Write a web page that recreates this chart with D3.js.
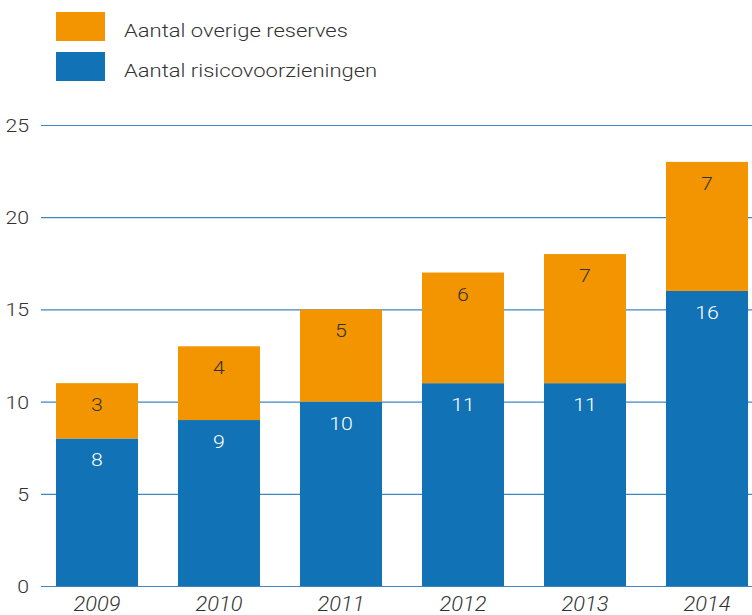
<!DOCTYPE html>
<html>
<head>
<meta charset="utf-8">
<script src="https://cdn.jsdelivr.net/npm/d3@7"></script>
<style>
    body { margin: 0; background: #fff; }
    svg text { font-family: Roboto, "Liberation Sans", sans-serif; font-weight: 300; fill: #333; }
</style>
</head>
<body>
<svg id="chart" width="752" height="615"></svg>
<script>
var years = ["2009", "2010", "2011", "2012", "2013", "2014"];
var risico = [8, 9, 10, 11, 11, 16];
var overige = [3, 4, 5, 6, 7, 7];
var yTicks = [0, 5, 10, 15, 20, 25];
var legendLabels = ["Aantal overige reserves", "Aantal risicovoorzieningen"];

var orange = "#f39500",
    blue = "#1172b6";

// the original font is wider than Roboto, so stretch text a little
var stretch = 1.12;

var svg = d3.select("#chart");

var x = d3.scaleBand()
    .domain(years)
    .range([36, 768])
    .paddingInner(0.328)
    .paddingOuter(0.164);

var y = d3.scaleLinear()
    .domain([0, 25])
    .range([586, 125]);

function place(px, py, sx) {
    return "translate(" + px + "," + py + ") scale(" + sx + ",1)";
}

// gridlines
svg.append("g")
    .selectAll("line")
    .data(yTicks)
    .enter().append("line")
    .attr("x1", 41)
    .attr("x2", 752)
    .attr("y1", function (d) { return y(d) + 0.5; })
    .attr("y2", function (d) { return y(d) + 0.5; })
    .attr("stroke", "#3f86c0")
    .attr("stroke-width", 1.2);

// y labels
svg.append("g")
    .selectAll("text")
    .data(yTicks)
    .enter().append("text")
    .attr("transform", function (d) { return place(29, y(d) + 7, stretch); })
    .attr("text-anchor", "end")
    .style("font-size", "19px")
    .text(function (d) { return d; });

// stacked bars
var rows = years.map(function (yr, i) {
    return { year: yr, risico: risico[i], overige: overige[i] };
});

var bars = svg.append("g")
    .selectAll("g")
    .data(rows)
    .enter().append("g");

bars.append("rect")
    .attr("x", function (d) { return x(d.year); })
    .attr("width", x.bandwidth())
    .attr("y", function (d) { return y(d.risico); })
    .attr("height", function (d) { return y(0) - y(d.risico); })
    .attr("fill", blue);

bars.append("rect")
    .attr("x", function (d) { return x(d.year); })
    .attr("width", x.bandwidth())
    .attr("y", function (d) { return y(d.risico + d.overige); })
    .attr("height", function (d) { return y(d.risico) - y(d.risico + d.overige); })
    .attr("fill", orange);

bars.append("text")
    .attr("transform", function (d) {
        return place(x(d.year) + x.bandwidth() / 2, y(d.risico) + 28, stretch);
    })
    .attr("text-anchor", "middle")
    .style("font-size", "19px")
    .style("fill", "#fff")
    .text(function (d) { return d.risico; });

bars.append("text")
    .attr("transform", function (d) {
        return place(x(d.year) + x.bandwidth() / 2, y(d.risico + d.overige) + 28, stretch);
    })
    .attr("text-anchor", "middle")
    .style("font-size", "19px")
    .text(function (d) { return d.overige; });

// x labels
svg.append("g")
    .selectAll("text")
    .data(years)
    .enter().append("text")
    .attr("transform", function (d) { return place(x(d) + x.bandwidth() / 2, 611, stretch); })
    .attr("text-anchor", "middle")
    .style("font-size", "19.5px")
    .style("font-style", "italic")
    .text(function (d) { return d; });

// legend
var legend = svg.append("g")
    .selectAll("g")
    .data(legendLabels)
    .enter().append("g")
    .attr("transform", function (d, i) { return "translate(56," + (12 + i * 40) + ")"; });

legend.append("rect")
    .attr("width", 49)
    .attr("height", 29)
    .attr("fill", function (d, i) { return i === 0 ? orange : blue; });

legend.append("text")
    .attr("transform", place(68, 24.5, 1.19))
    .style("font-size", "18.5px")
    .text(function (d) { return d; });
</script>
</body>
</html>
